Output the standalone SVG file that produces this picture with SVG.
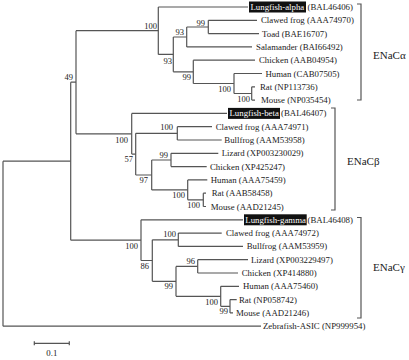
<svg xmlns="http://www.w3.org/2000/svg" width="409" height="360" viewBox="0 0 409 360">
<style>
.e{fill:none;stroke:#555;stroke-width:1.2}
.br{fill:none;stroke:#555;stroke-width:1.2}
.lf{font-family:"Liberation Serif","Times New Roman",serif;font-size:8.8px;fill:#222}
.hl{font-family:"Liberation Serif","Times New Roman",serif;font-size:8.8px;fill:#fff}
.bs{font-family:"Liberation Serif","Times New Roman",serif;font-size:8.5px;fill:#222;text-anchor:end}
.cl{font-family:"Liberation Serif","Times New Roman",serif;font-size:11px;fill:#222}
.box{fill:#111}
</style>
<rect width="409" height="360" fill="#fff"/>
<g id="connectors">
<!-- root -->
<path class="e" d="M3 161.2 V326.2 M3 161.2 H70.7 M3 326.2 H261"/>
<!-- node 49 -->
<path class="e" d="M70.7 82.2 V240.2 M70.7 82.2 H76 M70.7 240.2 H141"/>
<!-- alpha-beta -->
<path class="e" d="M76 30.7 V133.8 M76 30.7 H158.3 M76 133.8 H131.7"/>
<!-- alpha -->
<path class="e" d="M158.3 7 V54.4 M158.3 7 H248 M158.3 54.4 H173.3"/>
<path class="e" d="M173.3 37 V71.8 M173.3 37 H186.7 M173.3 71.8 H193.3"/>
<path class="e" d="M186.7 27 V46.9 M186.7 27 H208.3 M186.7 46.9 H252"/>
<path class="e" d="M208.3 20.3 V33.6 M208.3 20.3 H257 M208.3 33.6 H259"/>
<path class="e" d="M193.3 60.2 V83.5 M193.3 60.2 H255 M193.3 83.5 H234"/>
<path class="e" d="M234 73.5 V93.5 M234 73.5 H262 M234 93.5 H251.7"/>
<path class="e" d="M251.7 86.8 V100.1 M251.7 86.8 H255 M251.7 100.1 H255"/>
<!-- beta -->
<path class="e" d="M131.7 113.4 V154.1 M131.7 113.4 H227 M131.7 154.1 H135.7"/>
<path class="e" d="M135.7 133.3 V175 M135.7 133.3 H177.3 M135.7 175 H151.7"/>
<path class="e" d="M177.3 126.7 V140 M177.3 126.7 H212 M177.3 140 H221.7"/>
<path class="e" d="M151.7 160 V189.9 M151.7 160 H171 M151.7 189.9 H187.7"/>
<path class="e" d="M171 153.3 V166.6 M171 153.3 H218.3 M171 166.6 H206.7"/>
<path class="e" d="M187.7 179.9 V199.8 M187.7 179.9 H207.3 M187.7 199.8 H203.3"/>
<path class="e" d="M203.3 193.2 V206.5 M203.3 193.2 H206 M203.3 206.5 H206"/>
<!-- gamma -->
<path class="e" d="M141 219.8 V260.5 M141 219.8 H243 M141 260.5 H152.3"/>
<path class="e" d="M152.3 239.8 V281.3 M152.3 239.8 H178.3 M152.3 281.3 H176"/>
<path class="e" d="M178.3 233.1 V246.4 M178.3 233.1 H221.7 M178.3 246.4 H243"/>
<path class="e" d="M176 266.4 V296.3 M176 266.4 H197.7 M176 296.3 H220.7"/>
<path class="e" d="M197.7 259.7 V273 M197.7 259.7 H248 M197.7 273 H238"/>
<path class="e" d="M220.7 286.3 V306.3 M220.7 286.3 H239 M220.7 306.3 H230"/>
<path class="e" d="M230 299.6 V312.9 M230 299.6 H236.7 M230 312.9 H233"/>
</g>
<g id="bootstrap">
<text class="bs" x="73" y="80">49</text>
<text class="bs" x="157" y="29">100</text>
<text class="bs" x="172" y="64">93</text>
<text class="bs" x="184" y="35">93</text>
<text class="bs" x="205" y="26">99</text>
<text class="bs" x="191" y="80">99</text>
<text class="bs" x="231" y="92">100</text>
<text class="bs" x="250" y="102">100</text>
<text class="bs" x="128" y="143">100</text>
<text class="bs" x="133" y="162">57</text>
<text class="bs" x="173" y="130">100</text>
<text class="bs" x="168" y="158">99</text>
<text class="bs" x="148" y="183">97</text>
<text class="bs" x="185" y="198">100</text>
<text class="bs" x="200" y="208">100</text>
<text class="bs" x="138" y="249">100</text>
<text class="bs" x="149" y="269">86</text>
<text class="bs" x="176" y="237">100</text>
<text class="bs" x="195" y="264">96</text>
<text class="bs" x="173" y="289">99</text>
<text class="bs" x="218" y="305">100</text>
<text class="bs" x="228" y="314">99</text>
</g>
<g id="leaf-lungfish-alpha"><rect class="box" x="249" y="1.5" width="57" height="11"/><text class="hl" x="250.5" y="10">Lungfish-alpha</text><text class="lf" x="307.5" y="10">(BAL46406)</text></g>
<g id="leaf-clawed-frog-a"><text class="lf" x="261" y="23.3">Clawed frog (AAA74970)</text></g>
<g id="leaf-toad-a"><text class="lf" x="262" y="36.6">Toad (BAE16707)</text></g>
<g id="leaf-salamander-a"><text class="lf" x="256" y="49.9">Salamander (BAI66492)</text></g>
<g id="leaf-chicken-a"><text class="lf" x="259" y="63.2">Chicken (AAB04954)</text></g>
<g id="leaf-human-a"><text class="lf" x="265.5" y="76.5">Human (CAB07505)</text></g>
<g id="leaf-rat-a"><text class="lf" x="260" y="89.8">Rat (NP113736)</text></g>
<g id="leaf-mouse-a"><text class="lf" x="261" y="103.1">Mouse (NP035454)</text></g>
<g id="leaf-lungfish-beta"><rect class="box" x="228" y="107.9" width="52" height="11"/><text class="hl" x="229.5" y="116.4">Lungfish-beta</text><text class="lf" x="281" y="116.4">(BAL46407)</text></g>
<g id="leaf-clawed-frog-b"><text class="lf" x="215.7" y="129.7">Clawed frog (AAA74971)</text></g>
<g id="leaf-bullfrog-b"><text class="lf" x="224.3" y="143">Bullfrog (AAM53958)</text></g>
<g id="leaf-lizard-b"><text class="lf" x="221.7" y="156.3">Lizard (XP003230029)</text></g>
<g id="leaf-chicken-b"><text class="lf" x="210" y="169.6">Chicken (XP425247)</text></g>
<g id="leaf-human-b"><text class="lf" x="210.7" y="182.9">Human (AAA75459)</text></g>
<g id="leaf-rat-b"><text class="lf" x="211.7" y="196.2">Rat (AAB58458)</text></g>
<g id="leaf-mouse-b"><text class="lf" x="210.7" y="209.5">Mouse (AAD21245)</text></g>
<g id="leaf-lungfish-gamma"><rect class="box" x="244" y="214.3" width="62.7" height="11"/><text class="hl" x="245.3" y="222.8">Lungfish-gamma</text><text class="lf" x="307.5" y="222.8">(BAL46408)</text></g>
<g id="leaf-clawed-frog-g"><text class="lf" x="226" y="236.1">Clawed frog (AAA74972)</text></g>
<g id="leaf-bullfrog-g"><text class="lf" x="246.7" y="249.4">Bullfrog (AAM53959)</text></g>
<g id="leaf-lizard-g"><text class="lf" x="251" y="262.7">Lizard (XP003229497)</text></g>
<g id="leaf-chicken-g"><text class="lf" x="241.7" y="276">Chicken (XP414880)</text></g>
<g id="leaf-human-g"><text class="lf" x="243" y="289.3">Human (AAA75460)</text></g>
<g id="leaf-rat-g"><text class="lf" x="239" y="302.6">Rat (NP058742)</text></g>
<g id="leaf-mouse-g"><text class="lf" x="236" y="315.9">Mouse (AAD21246)</text></g>
<g id="leaf-zebrafish"><text class="lf" x="263" y="329.2">Zebrafish-ASIC (NP999954)</text></g>
<g id="clade-alpha"><path class="br" d="M357 4 H361 V100 H357"/><text class="cl" x="373" y="59">ENaCα</text></g>
<g id="clade-beta"><path class="br" d="M331 108 H335 V210 H331"/><text class="cl" x="347" y="165">ENaCβ</text></g>
<g id="clade-gamma"><path class="br" d="M357 217.5 H361 V318 H357"/><text class="cl" x="373" y="271">ENaCγ</text></g>
<g id="scale-bar"><path class="e" d="M34.3 343.3 H69.3 M34.3 341.3 V345.3 M69.3 341.3 V345.3"/><text class="lf" x="51.8" y="356" text-anchor="middle">0.1</text></g>
</svg>
